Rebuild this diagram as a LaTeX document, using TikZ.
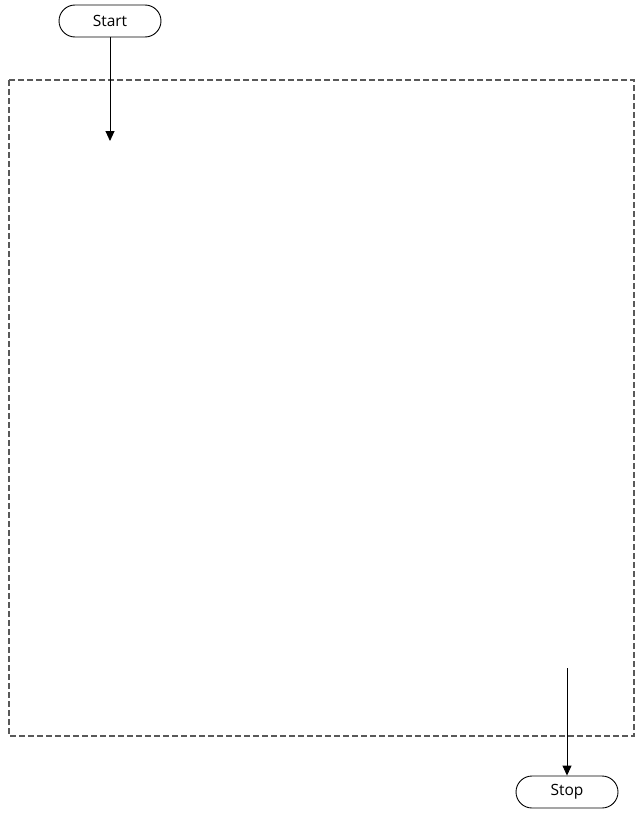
\documentclass[tikz,border=0pt]{standalone}
\usepackage{fontspec}
\setmainfont{Open Sans}
\usetikzlibrary{shapes,arrows,positioning,calc,arrows.meta}

\tikzset{
    terminal/.style={draw, line width=0.9pt, rounded corners=16pt, minimum width=102pt, minimum height=32pt, inner sep=0pt, font=\fontsize{15.5}{18}\selectfont},
    flow/.style={-{Triangle[width=9pt,length=10pt]}, line width=0.9pt},
    region/.style={draw=black!65, dash pattern=on 6pt off 3pt, line width=1.1pt}
}

\begin{document}
\begin{tikzpicture}[x=1pt, y=-1pt]
    \useasboundingbox (0, 0) rectangle (642, 816);

    % Region
    \draw [region] (9, 80) rectangle (634, 736);

    % Start
    \node [terminal] (start) at (110, 21) {Start};
    \coordinate (entry) at (110, 141);
    \draw [flow] (start) -- (entry);

    % Stop
    \node [terminal] (stop) at (567, 792) {Stop};
    \coordinate (exit) at (567, 668);
    \draw [flow] (exit) -- (stop);
\end{tikzpicture}
\end{document}
